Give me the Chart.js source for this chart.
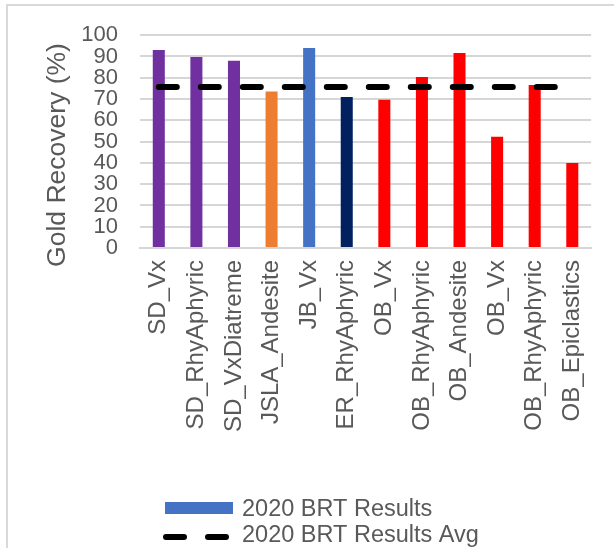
<!DOCTYPE html>
<html>
<head>
<meta charset="utf-8">
<script src="https://cdn.jsdelivr.net/npm/chart.js@4.4.0/dist/chart.umd.min.js"></script>
<style>
  html, body { margin: 0; padding: 0; background: #fff; }
  #wrap { position: relative; width: 614px; height: 548px; overflow: hidden; }
  #frame { position: absolute; left: 6px; top: 4px; width: 700px; height: 700px;
           border-left: 2px solid #d9d9d9; border-top: 2px solid #d9d9d9; }
  canvas { position: absolute; left: 0; top: 0; }
</style>
</head>
<body>
<div id="wrap">
  <div id="frame"></div>
  <canvas id="chart" width="614" height="548"></canvas>
</div>
<script>
const CATEGORIES = ['SD_Vx', 'SD_RhyAphyric', 'SD_VxDiatreme', 'JSLA_Andesite', 'JB_Vx', 'ER_RhyAphyric',
  'OB_Vx', 'OB_RhyAphyric', 'OB_Andesite', 'OB_Vx', 'OB_RhyAphyric', 'OB_Epiclastics'];
const RECOVERY = [93, 89.7, 88, 73.5, 94, 71, 69.7, 80.4, 91.6, 52.3, 76.6, 40];
const RECOVERY_AVG = 75.7;
const Y_TICKS = [0, 10, 20, 30, 40, 50, 60, 70, 80, 90, 100];
const SERIES_NAMES = ['2020 BRT Results', '2020 BRT Results Avg'];

const BAR_COLORS = ['#7030A0', '#7030A0', '#7030A0', '#ED7D31', '#4472C4', '#002060',
  '#FF0000', '#FF0000', '#FF0000', '#FF0000', '#FF0000', '#FF0000'];
const LEGEND_BAR_COLOR = '#4472C4';
const TEXT = '#595959';
const GRID = '#d6d6d6';
const FONT = "'Liberation Sans', Arial, sans-serif";

// y axis title, placed by hand like the Excel original
const yTitlePlugin = {
  id: 'yTitle',
  afterDraw(chart) {
    const ctx = chart.ctx;
    ctx.save();
    ctx.translate(65, 155);
    ctx.rotate(-Math.PI / 2);
    ctx.font = '26.5px ' + FONT;
    ctx.fillStyle = TEXT;
    ctx.textAlign = 'center';
    ctx.textBaseline = 'alphabetic';
    ctx.fillText('Gold Recovery (%)', 0, 0);
    ctx.restore();
  }
};

// two-row legend, left aligned
const legendPlugin = {
  id: 'stackLegend',
  afterDraw(chart) {
    const ctx = chart.ctx;
    const bars = chart.data.datasets.find(d => d.type === 'bar');
    const avg = chart.data.datasets.find(d => d.type === 'line');
    ctx.save();
    ctx.font = '23.5px ' + FONT;
    ctx.textBaseline = 'alphabetic';
    ctx.textAlign = 'left';

    ctx.fillStyle = LEGEND_BAR_COLOR;
    ctx.fillRect(165, 502, 68, 12);
    ctx.fillStyle = TEXT;
    ctx.fillText(bars.label, 242, 515.5);

    ctx.strokeStyle = avg.borderColor;
    ctx.lineWidth = 6;
    ctx.lineCap = 'round';
    ctx.setLineDash([18, 24]);
    ctx.beginPath();
    ctx.moveTo(166, 537);
    ctx.lineTo(226, 537);
    ctx.stroke();
    ctx.setLineDash([]);
    ctx.fillText(avg.label, 242, 542);
    ctx.restore();
  }
};

new Chart(document.getElementById('chart'), {
  data: {
    labels: CATEGORIES,
    datasets: [
      {
        type: 'line',
        label: SERIES_NAMES[1],
        data: CATEGORIES.map(() => RECOVERY_AVG),
        borderColor: '#000',
        borderWidth: 6,
        borderDash: [18, 24],
        borderCapStyle: 'round',
        pointRadius: 0,
        fill: false,
        order: 0
      },
      {
        type: 'bar',
        label: SERIES_NAMES[0],
        data: RECOVERY,
        backgroundColor: BAR_COLORS,
        borderWidth: 0,
        categoryPercentage: 1,
        barPercentage: 0.32,
        order: 1
      }
    ]
  },
  options: {
    responsive: false,
    animation: false,
    layout: { padding: { top: 34, right: 22, bottom: 0, left: 0 } },
    plugins: {
      legend: { display: false },
      tooltip: { enabled: false }
    },
    scales: {
      x: {
        grid: { display: false, drawTicks: false },
        border: { display: true, color: GRID, width: 2 },
        ticks: {
          autoSkip: false, maxRotation: 90, minRotation: 90, padding: 12,
          color: TEXT, font: { family: FONT, size: 24 }
        },
        afterFit(scale) { scale.height = 300; }
      },
      y: {
        min: 0, max: 100,
        afterBuildTicks(scale) { scale.ticks = Y_TICKS.map(v => ({ value: v })); },
        grid: { color: GRID, lineWidth: 2, drawTicks: false },
        border: { display: false },
        ticks: { autoSkip: false, padding: 22, color: TEXT, font: { family: FONT, size: 22 } },
        afterFit(scale) { scale.width = 140; }
      }
    }
  },
  plugins: [yTitlePlugin, legendPlugin]
});
</script>
</body>
</html>
